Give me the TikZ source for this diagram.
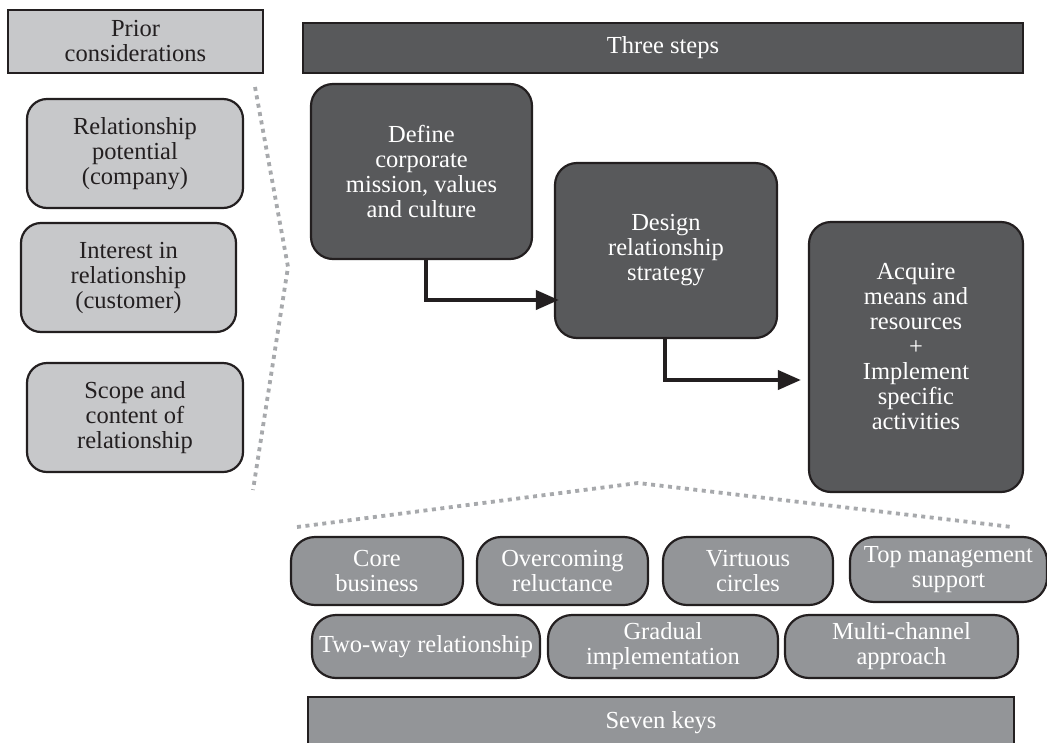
\documentclass[tikz,border=0pt]{standalone}
\usepackage{fontspec}
\setmainfont{Liberation Serif}
\usetikzlibrary{arrows.meta,calc}
\definecolor{lightg}{HTML}{C7C8CA}
\definecolor{darkg}{HTML}{58595B}
\definecolor{midg}{HTML}{939598}
\definecolor{dotg}{HTML}{A7A9AC}
\definecolor{ink}{HTML}{231F20}
\begin{document}
\begin{tikzpicture}[x=1pt,y=-1pt,
  txt/.style={font=\fontsize{24.5}{25}\selectfont, align=center, inner sep=0pt},
  sqbox/.style={draw=ink, line width=2pt, rectangle, txt},
  lbox/.style={draw=ink, line width=2.2pt, rounded corners=20pt, fill=lightg, text=ink, txt},
  dbox/.style={draw=ink, line width=2.2pt, rounded corners=22pt, fill=darkg, text=white, txt},
  pill/.style={draw=ink, line width=2.2pt, rounded corners=24pt, fill=midg, text=white, txt},
  dotline/.style={draw=dotg, line width=3.8pt, dash pattern=on 4pt off 4.5pt},
  arr/.style={draw=ink, line width=4pt, -{Triangle[length=23pt,width=19pt]}}
]
\useasboundingbox (0,0) rectangle (1047,742);
\clip (0,0) rectangle (1047,742);

% dotted guide lines
\coordinate (l1) at (255,87);
\coordinate (l2) at (288,267);
\coordinate (l3) at (253,490);
\coordinate (b1) at (297,527);
\coordinate (b2) at (638,483);
\coordinate (b3) at (1012,527);
\draw[dotline] (l1) -- (l2) -- (l3);
\draw[dotline] (b1) -- (b2) -- (b3);

% left column
\node[sqbox, fill=lightg, text=ink, minimum width=255pt, minimum height=63pt] (prior) at (135.5,41.5) {Prior\\considerations};
\node[lbox, minimum width=216pt, minimum height=109pt] (relpot) at (135,153.5) {Relationship\\potential\\(company)};
\node[lbox, minimum width=215pt, minimum height=109pt] (interest) at (128.5,277.5) {Interest in\\relationship\\(customer)};
\node[lbox, minimum width=216pt, minimum height=109pt] (scope) at (135,417.5) {Scope and\\content of\\relationship};

% three steps
\node[sqbox, fill=darkg, text=white, minimum width=720pt, minimum height=50pt] (three) at (663,48) {Three steps};
\node[dbox, minimum width=221pt, minimum height=175pt] (def) at (421.5,171.5) {Define\\corporate\\mission, values\\and culture};
\node[dbox, minimum width=222pt, minimum height=175pt] (des) at (666,250.5) {Design\\relationship\\strategy};
\node[dbox, minimum width=214pt, minimum height=270pt] (acq) at (916,357) {};
\node[txt, text=white] (acqtext) at (916,347) {Acquire\\means and\\resources\\+\\Implement\\specific\\activities};

\draw[arr] ([xshift=4.5pt]def.south) |- ([xshift=5pt,yshift=-49.5pt]des.west);
\draw[arr] ([xshift=-1pt]des.south) |- ([xshift=-7pt,yshift=-23pt]acq.west);

% seven keys
\node[pill, minimum width=172pt, minimum height=68pt] (core) at (377,571) {Core\\business};
\node[pill, minimum width=171pt, minimum height=68pt] (over) at (562.5,571) {Overcoming\\reluctance};
\node[pill, minimum width=170pt, minimum height=68pt] (virt) at (748,571) {Virtuous\\circles};
\node[pill, minimum width=197pt, minimum height=65pt] (top) at (948.5,569.5) {Top management\\support};
\node[pill, minimum width=228pt, minimum height=63pt] (two) at (426,646.5) {Two-way relationship};
\node[pill, minimum width=230pt, minimum height=63pt] (grad) at (663,646.5) {Gradual\\implementation};
\node[pill, minimum width=233pt, minimum height=63pt] (multi) at (901.5,646.5) {Multi-channel\\approach};
\node[sqbox, fill=midg, text=white, minimum width=706pt, minimum height=52pt] (seven) at (661,723) {Seven keys};
\end{tikzpicture}
\end{document}
